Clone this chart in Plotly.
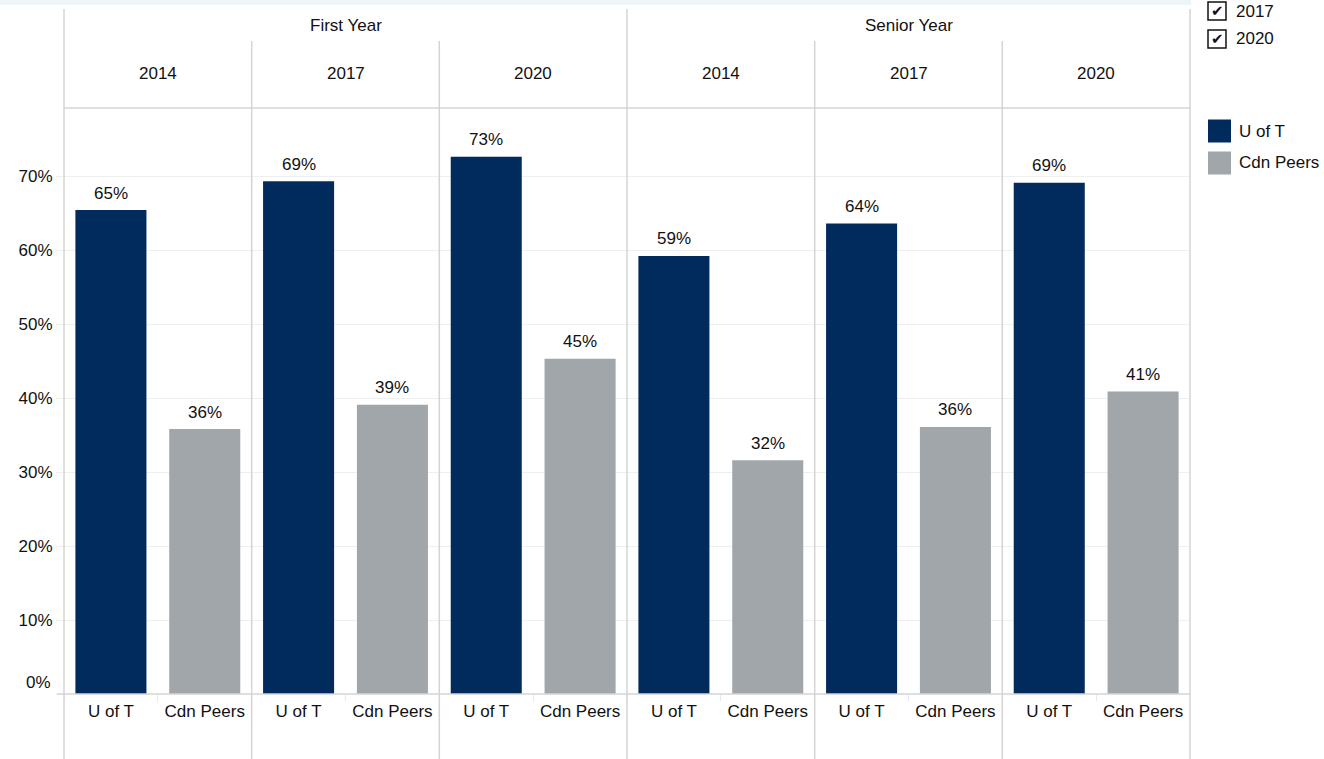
import plotly.graph_objects as go
from plotly.subplots import make_subplots

# ---- data ----
groups = ["First Year", "Senior Year"]
years = ["2014", "2017", "2020", "2014", "2017", "2020"]
categories = ["U of T", "Cdn Peers"]
uoft = [65.4, 69.3, 72.6, 59.2, 63.6, 69.1]
peers = [35.8, 39.1, 45.3, 31.6, 36.1, 40.9]
y_ticks = [0, 10, 20, 30, 40, 50, 60, 70]
y_ticktext = ["" if v == 0 else f"{v}%" for v in y_ticks]
filter_years = ["2017", "2020"]

NAVY = "#002b5c"
GRAY = "#a0a6a9"
LINE = "#d4d4d4"
GRID = "#efefef"
FONT = "Liberation Sans, Arial, sans-serif"
FS = 17

W, H = 1324, 759
L, R, T, B = 64, 134, 108, 65
PW, PH = W - L - R, H - T - B


def px_x(x):
    return (x - L) / PW


def px_y(y):
    return (H - B - y) / PH


fig = make_subplots(rows=1, cols=6, shared_yaxes=True, horizontal_spacing=0)

annotations = []
for i in range(6):
    xa = "x" if i == 0 else f"x{i + 1}"
    ya = "y" if i == 0 else f"y{i + 1}"
    for cat, vals, col in zip(categories, [uoft, peers], [NAVY, GRAY]):
        fig.add_trace(go.Bar(x=[cat], y=[vals[i]], name=cat,
                             marker=dict(color=col, line=dict(width=0)),
                             showlegend=False,
                             hovertemplate="%{x}: %{y:.1f}%<extra></extra>"),
                      row=1, col=i + 1)
        annotations.append(dict(text=f"{vals[i]:.0f}%", xref=xa, yref=ya, x=cat, y=vals[i],
                                yshift=17, showarrow=False, xanchor="center", yanchor="middle",
                                font=dict(size=FS, color="#111", family=FONT)))

fig.update_xaxes(categoryorder="array", categoryarray=categories, range=[-0.5, 1.5],
                 showline=False, showgrid=False, zeroline=False,
                 ticks="outside", tickson="boundaries", ticklen=6, tickcolor="#e8e8e8",
                 ticklabelstandoff=5,
                 tickfont=dict(size=FS, color="#111", family=FONT))
fig.update_yaxes(range=[0, 79.2], tickmode="array", tickvals=y_ticks, ticktext=y_ticktext,
                 showgrid=True, gridcolor=GRID, gridwidth=1, zeroline=False,
                 showline=False, tickfont=dict(size=FS, color="#111", family=FONT))
fig.update_yaxes(ticks="outside", ticklen=7, tickcolor=GRID, row=1, col=1)

# 0% label sits just above the baseline
annotations.append(dict(text=f"{y_ticks[0]}%", xref="paper", yref="y", x=px_x(53), y=y_ticks[0],
                        yshift=12, showarrow=False, xanchor="right", yanchor="middle",
                        font=dict(size=FS, color="#111", family=FONT)))

shapes = []
# top light band
shapes.append(dict(type="rect", xref="paper", yref="paper", x0=px_x(0), x1=px_x(1191),
                   y0=px_y(0), y1=px_y(5), fillcolor="#eef5f9", line=dict(width=0), layer="below"))
# vertical panel lines
for k, xp in enumerate([64, 251.7, 439.3, 627, 814.7, 1002.3, 1190]):
    top = 9 if k in (0, 3, 6) else 41
    shapes.append(dict(type="line", xref="paper", yref="paper", x0=px_x(xp), x1=px_x(xp),
                       y0=px_y(top), y1=px_y(H), line=dict(color=LINE, width=1.5)))
# header bottom line and x axis line
shapes.append(dict(type="line", xref="paper", yref="paper", x0=0, x1=1, y0=1, y1=1,
                   line=dict(color=LINE, width=1.5)))
shapes.append(dict(type="line", xref="paper", yref="paper", x0=px_x(57), x1=1, y0=0, y1=0,
                   line=dict(color=LINE, width=1.5)))

for g, gname in enumerate(groups):
    annotations.append(dict(text=gname, xref="paper", yref="paper", x=0.25 + 0.5 * g, y=px_y(25),
                            showarrow=False, xanchor="center", yanchor="middle",
                            font=dict(size=FS, color="#111", family=FONT)))
for i, yr in enumerate(years):
    annotations.append(dict(text=yr, xref="paper", yref="paper", x=(i + 0.5) / 6, y=px_y(73),
                            showarrow=False, xanchor="center", yanchor="middle",
                            font=dict(size=FS, color="#111", family=FONT)))

# filter checkboxes
for j, fy in enumerate(filter_years):
    yc = 11 + 28 * j
    shapes.append(dict(type="rect", xref="paper", yref="paper", x0=px_x(1208), x1=px_x(1226),
                       y0=px_y(yc - 9), y1=px_y(yc + 9), fillcolor="white",
                       line=dict(color="#111", width=1.5)))
    annotations.append(dict(text="✔", xref="paper", yref="paper", x=px_x(1217), y=px_y(yc),
                            showarrow=False, xanchor="center", yanchor="middle",
                            font=dict(size=15, color="#111", family="DejaVu Sans")))
    annotations.append(dict(text=fy, xref="paper", yref="paper", x=px_x(1234), y=px_y(yc),
                            showarrow=False, xanchor="left", yanchor="middle",
                            font=dict(size=FS, color="#111", family=FONT)))

# colour legend
for j, (cat, col) in enumerate(zip(categories, [NAVY, GRAY])):
    yc = 131 + 32 * j
    shapes.append(dict(type="rect", xref="paper", yref="paper", x0=px_x(1208), x1=px_x(1231),
                       y0=px_y(yc - 11.5), y1=px_y(yc + 11.5), fillcolor=col, line=dict(width=0)))
    annotations.append(dict(text=cat, xref="paper", yref="paper", x=px_x(1237), y=px_y(yc),
                            showarrow=False, xanchor="left", yanchor="middle",
                            font=dict(size=FS, color="#111", family=FONT)))

fig.update_layout(width=W, height=H, autosize=False,
                  margin=dict(l=L, r=R, t=T, b=B, pad=0),
                  paper_bgcolor="white", plot_bgcolor="white",
                  barmode="overlay", bargap=0.243, showlegend=False,
                  shapes=shapes, annotations=annotations,
                  font=dict(family=FONT, size=FS, color="#111"))

fig.write_html("out.html", config={"displayModeBar": False},
               post_script="document.body.style.margin='0';document.body.style.overflow='hidden';")
